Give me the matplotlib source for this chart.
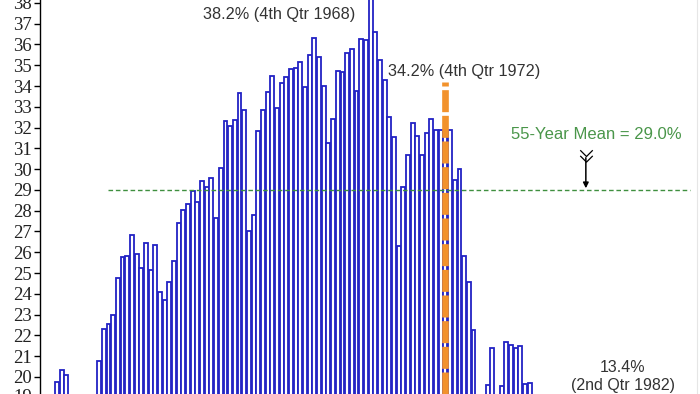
import matplotlib
matplotlib.use("Agg")
import matplotlib.pyplot as plt
import pandas as pd
from matplotlib.path import Path

# ---------------- data ----------------
start_quarter = "1952Q1"
values = [
    19.74, 20.35, 20.10, 18.5, 18.5, 18.5, 18.5, 18.5, 18.5, 20.75,   # 0-9
    22.32, 22.54, 22.96, 24.75, 25.75, 25.80, 26.82, 25.91, 25.23, 26.47,  # 10-19
    25.15, 26.36, 24.08, 23.71, 24.58, 25.59, 27.40, 28.04, 28.33, 28.97,  # 20-29
    28.44, 29.43, 29.16, 29.56, 27.67, 30.04, 32.32, 32.10, 32.37, 33.65,  # 30-39
    32.85, 27.00, 27.80, 31.85, 32.85, 33.73, 34.46, 32.93, 34.13, 34.45,  # 40-49
    34.80, 34.88, 35.15, 33.94, 35.50, 36.32, 35.40, 34.00, 31.24, 32.40,  # 50-59
    34.74, 34.69, 35.57, 35.78, 33.77, 36.28, 36.20, 38.20, 36.60, 35.25,  # 60-69
    34.29, 32.50, 31.53, 26.30, 29.16, 30.70, 32.20, 31.60, 30.70, 31.72,  # 70-79
    32.40, 31.87, 31.87, 31.87, 31.90, 29.50, 30.00, 25.80, 24.56, 22.24,  # 80-89
    18.5, 18.5, 19.60, 21.40, 18.8, 19.56, 21.68, 21.56, 21.40, 21.50,     # 90-99
    19.67, 19.72,                                                          # 100-101
]
mean_value = 29.0
high_1968 = ("1968Q4", 38.2)
high_1972 = ("1972Q4", 34.2)
low_1982 = ("1982Q2", 13.4)
ytick_values = list(range(20, 39))

quarters = pd.period_range(start_quarter, periods=len(values), freq="Q")
base = pd.Period(start_quarter, freq="Q")


def qidx(q):
    return (pd.Period(q, freq="Q") - base).n


x = list(range(len(quarters)))

# ---------------- figure ----------------
fig = plt.figure(figsize=(7.0, 3.94), dpi=100)
ax = fig.add_axes([40 / 700, 0.0, 657 / 700, 1.0])
ax.set_xlim(-3.63, 136.75)
ax.set_ylim(19.18, 38.14)

ax.bar(x, values, width=0.84, color="white", edgecolor="#2222c4",
       linewidth=1.3, zorder=2)

# highlighted 1972 quarter (orange dashed marker)
hx = qidx(high_1972[0])
ax.vlines(hx, 19.18, high_1972[1], colors="#f2922c", linewidth=4.8,
          linestyles=(0, (3.3, 0.55)), zorder=3)

# mean line
ax.hlines(mean_value, 10.8, 135.3, colors="#3f8f3f", linewidth=1.0,
          linestyles=(0, (3.3, 2.0)), zorder=4)

# labels
sans = ["Liberation Sans", "DejaVu Sans"]
ax.text(47.4, 37.46, f"{high_1968[1]:.1f}% (4th Qtr {high_1968[0][:4]})",
        ha="center", va="center", fontsize=11.7, color="#333333", family=sans)
ax.text(86.9, 34.70, f"{high_1972[1]:.1f}% (4th Qtr {high_1972[0][:4]})",
        ha="center", va="center", fontsize=11.7, color="#333333", family=sans)
ax.text(115.2, 31.69, f"55-Year Mean = {mean_value:.1f}%",
        ha="center", va="center", fontsize=12, color="#4a964a", family=sans)
ax.text(120.9, 20.03, f"{low_1982[1]:.1f}%\n(2nd Qtr {low_1982[0][:4]})",
        ha="center", va="center", fontsize=11.5, color="#333333",
        family=sans, linespacing=1.3)

# arrow pointing to the mean line
ax.annotate("", xy=(113.0, 29.08), xytext=(113.0, 30.55),
            arrowprops=dict(arrowstyle="-|>", color="black", lw=1.1,
                            mutation_scale=8, shrinkA=0, shrinkB=0), zorder=5)
fletch = Path([(-1, 1), (0, 0), (1, 1), (-1, 0.1), (0, -0.9), (1, 0.1)],
              [Path.MOVETO, Path.LINETO, Path.LINETO,
               Path.MOVETO, Path.LINETO, Path.LINETO])
ax.plot([113.0], [30.62], marker=fletch, markersize=9, color="black",
        markeredgewidth=0.9, fillstyle="none", zorder=5)

# axes styling
for side in ("top", "bottom"):
    ax.spines[side].set_visible(False)
ax.spines["right"].set_color("#e6e6e6")
ax.spines["left"].set_color("black")
ax.spines["left"].set_linewidth(1.0)
ax.set_xticks([])
ax.set_yticks(ytick_values)
ax.tick_params(axis="y", direction="out", length=4, width=1, pad=2,
               labelsize=13.5, labelcolor="#222222")
for lbl in ax.get_yticklabels():
    lbl.set_family(["Liberation Serif", "DejaVu Serif"])
# partially visible "19" label at bottom edge
ax.text(-0.012, 19, "19", transform=ax.get_yaxis_transform(), ha="right",
        va="center", fontsize=13.5, color="#222222",
        family=["Liberation Serif", "DejaVu Serif"], clip_on=False)

fig.savefig("out.png", dpi=100)
